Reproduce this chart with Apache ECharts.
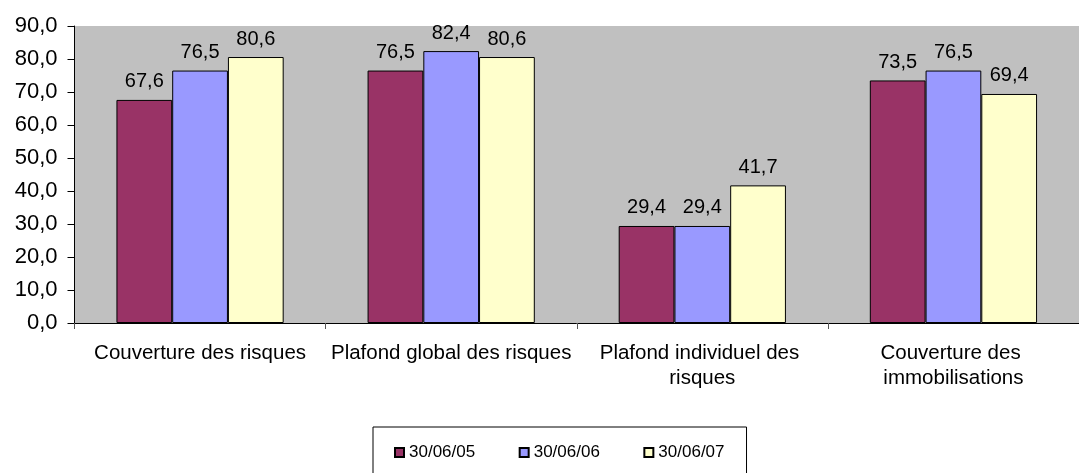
<!DOCTYPE html>
<html>
<head>
<meta charset="utf-8">
<script src="https://cdn.jsdelivr.net/npm/echarts@6/dist/echarts.min.js"></script>
<style>
html,body{margin:0;padding:0;background:#fff;}
#chart{width:1079px;height:473px;}
</style>
</head>
<body>
<div id="chart"></div>
<script>
const categories = ["Couverture des risques", "Plafond global des risques", "Plafond individuel des risques", "Couverture des immobilisations"];
const seriesNames = ["30/06/05", "30/06/06", "30/06/07"];
const values2005 = [67.6, 76.5, 29.4, 73.5];
const values2006 = [76.5, 82.4, 29.4, 76.5];
const values2007 = [80.6, 80.6, 41.7, 69.4];
const colors = ["#993366", "#9999FF", "#FFFFCC"];
const yMin = 0, yMax = 90, yInterval = 10;

const FONT = "'Liberation Sans', Arial, sans-serif";
const chart = echarts.init(document.getElementById('chart'), null, {renderer: 'canvas'});

function mkSeries(name, data, color) {
  return {
    name: name,
    type: 'bar',
    data: data,
    barWidth: '22.2%',
    barGap: '0%',
    itemStyle: {color: color, borderColor: '#000', borderWidth: 1},
    label: {
      show: true,
      position: 'top',
      distance: 8,
      color: '#000',
      fontFamily: FONT,
      fontSize: 20,
      formatter: p => p.value.toFixed(1).replace('.', ',')
    },
    emphasis: {disabled: true},
    animation: false
  };
}

chart.setOption({
  animation: false,
  backgroundColor: '#fff',
  grid: {
    left: 74.5, right: -15, top: 26, bottom: 150,
    show: true, backgroundColor: '#C0C0C0', borderWidth: 0
  },
  legend: {
    data: seriesNames,
    left: 373, top: 427,
    orient: 'horizontal',
    padding: [17, 22, 30, 21],
    borderColor: '#000', borderWidth: 1,
    itemWidth: 9, itemHeight: 9, itemGap: 43.5,
    icon: 'rect',
    textStyle: {fontFamily: FONT, fontSize: 17, color: '#000'}
  },
  xAxis: {
    type: 'category',
    data: categories,
    axisLine: {show: true, lineStyle: {color: '#000', width: 1}},
    axisTick: {show: true, alignWithLabel: false, length: 6, lineStyle: {color: '#555'}},
    axisLabel: {
      interval: 0, margin: 18, color: '#000', fontFamily: FONT, fontSize: 20.5,
      width: 245, overflow: 'break', lineHeight: 25
    },
    splitLine: {show: false}
  },
  yAxis: {
    type: 'value',
    min: yMin, max: yMax, interval: yInterval,
    axisLine: {show: true, lineStyle: {color: '#000', width: 1}},
    axisTick: {show: true, length: 7, lineStyle: {color: '#000'}},
    axisLabel: {
      margin: 17, color: '#000', fontFamily: FONT, fontSize: 22,
      formatter: v => v.toFixed(1).replace('.', ',')
    },
    splitLine: {show: false}
  },
  series: [
    mkSeries(seriesNames[0], values2005, colors[0]),
    mkSeries(seriesNames[1], values2006, colors[1]),
    mkSeries(seriesNames[2], values2007, colors[2])
  ]
});
</script>
</body>
</html>
